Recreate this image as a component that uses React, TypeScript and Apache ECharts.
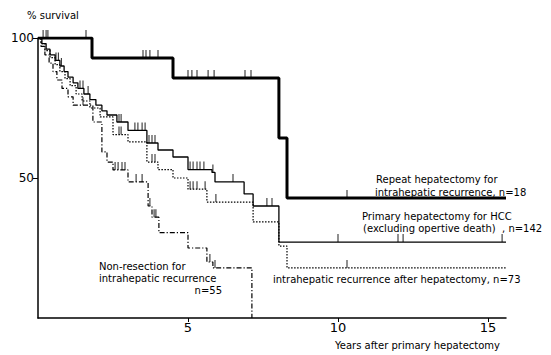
import React, { useEffect, useRef } from "react";
import * as echarts from "echarts";

// Kaplan-Meier step data (years, % survival)
const repeatT = [0, 1.8, 4.5, 8.03, 8.3, 15.6];
const repeatS = [100, 92.9, 85.7, 64.3, 42.9, 42.9];
const repeatC = [0.17, 0.27, 0.33, 1.6, 3.5, 3.6, 3.73, 4.0, 5.0, 5.13, 5.3, 5.67, 5.87, 6.9, 7.1, 10.3];

const primaryT = [0, 0.13, 0.27, 0.4, 0.57, 0.73, 0.87, 1.0, 1.17, 1.33, 1.53, 1.73, 1.93, 2.13, 2.3, 2.63, 3.0, 3.63, 4.0, 4.5, 5.0, 5.8, 5.9, 6.87, 7.17, 8.03, 15.6];
const primaryS = [100, 98, 96, 94, 92, 90, 88, 86, 84, 82, 80, 78, 76, 74, 72.5, 70, 67, 62.5, 60, 57.5, 53, 52, 48.6, 44.3, 40, 27.1, 27.1];
const primaryC = [0.6, 0.68, 0.78, 1.4, 1.5, 1.67, 2.7, 2.77, 3.23, 3.33, 3.47, 3.57, 3.7, 3.8, 3.9, 5.07, 5.17, 5.3, 5.4, 5.53, 5.83, 6.5, 7.63, 7.8, 10.0, 12.0, 12.17, 15.47];

const recurT = [0, 0.1, 0.23, 0.4, 0.57, 0.73, 0.9, 1.07, 1.27, 1.47, 1.73, 2.07, 2.5, 3.0, 3.63, 4.0, 4.5, 5.0, 5.63, 7.17, 8.03, 8.3, 15.6];
const recurS = [100, 98, 95.5, 93, 90.5, 88, 85.5, 83, 80, 77.5, 75, 71.8, 65.5, 62.9, 55.7, 53, 50, 46, 41.4, 34.3, 25.7, 17.9, 17.9];
const recurC = [2.7, 2.77, 3.8, 3.9, 5.07, 5.17, 5.3, 5.57, 5.93, 10.3];

const nonresT = [0, 0.1, 0.23, 0.37, 0.5, 0.63, 0.8, 1.0, 1.17, 1.83, 2.13, 2.3, 2.5, 3.0, 3.67, 3.8, 4.03, 5.0, 5.63, 5.83, 7.13];
const nonresS = [100, 97, 94, 91, 88, 85, 82, 79, 76, 70, 59.3, 55.7, 52.9, 48.6, 40, 36, 30.5, 25, 20, 17.9, 0];
const nonresC = [1.5, 2.57, 2.67, 2.8, 2.9, 3.27, 3.47, 3.73, 3.87, 3.93, 5.73, 5.9];

const xTickLabels = [5, 10, 15];
const yTickLabels = [50, 100];

const FONT = '"DejaVu Sans", "Noto Sans", sans-serif';

function pairs(t: number[], s: number[]) {
  return t.map((v, i) => [v, s[i]]);
}
function lookup(t: number[], s: number[], x: number) {
  let v = s[0];
  for (let i = 0; i < t.length; i++) if (t[i] <= x) v = s[i];
  return v;
}
function censor(t: number[], s: number[], c: number[]) {
  return c.map((x) => [x, lookup(t, s, x)]);
}

export default function App() {
  const ref = useRef<HTMLDivElement>(null);
  useEffect(() => {
    if (!ref.current) return;
    const chart = echarts.init(ref.current, null, { renderer: "svg" });
    const line = (data: number[][], width: number, type: any) => ({
      type: "line",
      data,
      step: "end",
      symbol: "none",
      silent: true,
      lineStyle: { color: "#000", width, type },
    });
    const ticks = (data: number[][]) => ({
      type: "scatter",
      data,
      symbol: "rect",
      symbolSize: [1.1, 8],
      symbolOffset: [0, -4],
      silent: true,
      itemStyle: { color: "#000" },
    });
    const text = (x: number, y: number, t: string, size = 10, align = "left") => ({
      type: "text",
      x,
      y,
      silent: true,
      style: { text: t, fill: "#000", font: `${size}px ${FONT}`, align, verticalAlign: "middle" },
    });
    chart.setOption({
      animation: false,
      grid: { left: 38, top: 38, right: 45, bottom: 37 },
      xAxis: {
        type: "value",
        min: 0,
        max: 15.6,
        interval: 5,
        splitLine: { show: false },
        axisLine: { lineStyle: { color: "#000", width: 1.5 } },
        axisTick: { customValues: xTickLabels, length: 4, lineStyle: { color: "#000" } },
        axisLabel: { customValues: xTickLabels, color: "#000", fontSize: 13, fontFamily: FONT, margin: 3 },
      },
      yAxis: {
        type: "value",
        min: 0,
        max: 100,
        interval: 50,
        splitLine: { show: false },
        axisLine: { show: true, lineStyle: { color: "#000", width: 1.5 } },
        axisTick: { customValues: yTickLabels, length: 5, lineStyle: { color: "#000" } },
        axisLabel: { customValues: yTickLabels, color: "#000", fontSize: 12, fontFamily: FONT, margin: 4 },
      },
      series: [
        line(pairs(primaryT, primaryS), 1.3, "solid"),
        line(pairs(recurT, recurS), 1.2, [1.5, 1.5]),
        line(pairs(nonresT, nonresS), 1.2, [5, 2, 1.2, 2]),
        line(pairs(repeatT, repeatS), 3, "solid"),
        ticks(censor(repeatT, repeatS, repeatC)),
        ticks(censor(primaryT, primaryS, primaryC)),
        ticks(censor(recurT, recurS, recurC)),
        ticks(censor(nonresT, nonresS, nonresC)),
      ],
      graphic: [
        text(27, 15, "% survival", 10),
        text(376, 179, "Repeat hepatectomy for"),
        text(375, 192, "intrahepatic recurrence, n=18"),
        text(362, 216, "Primary hepatectomy for HCC"),
        text(363, 228, "(excluding opertive death)  , n=142"),
        text(273, 279, "intrahepatic recurrence after hepatectomy, n=73"),
        text(99, 266, "Non-resection for"),
        text(99, 278, "intrahepatic recurrence"),
        text(222, 290, "n=55", 10, "right"),
        text(500, 345, "Years after primary hepatectomy", 10, "right"),
      ],
    });
    return () => chart.dispose();
  }, []);
  return (
    <div
      ref={ref}
      style={{ position: "absolute", left: 0, top: 0, width: 551, height: 355, background: "#fff" }}
    />
  );
}
